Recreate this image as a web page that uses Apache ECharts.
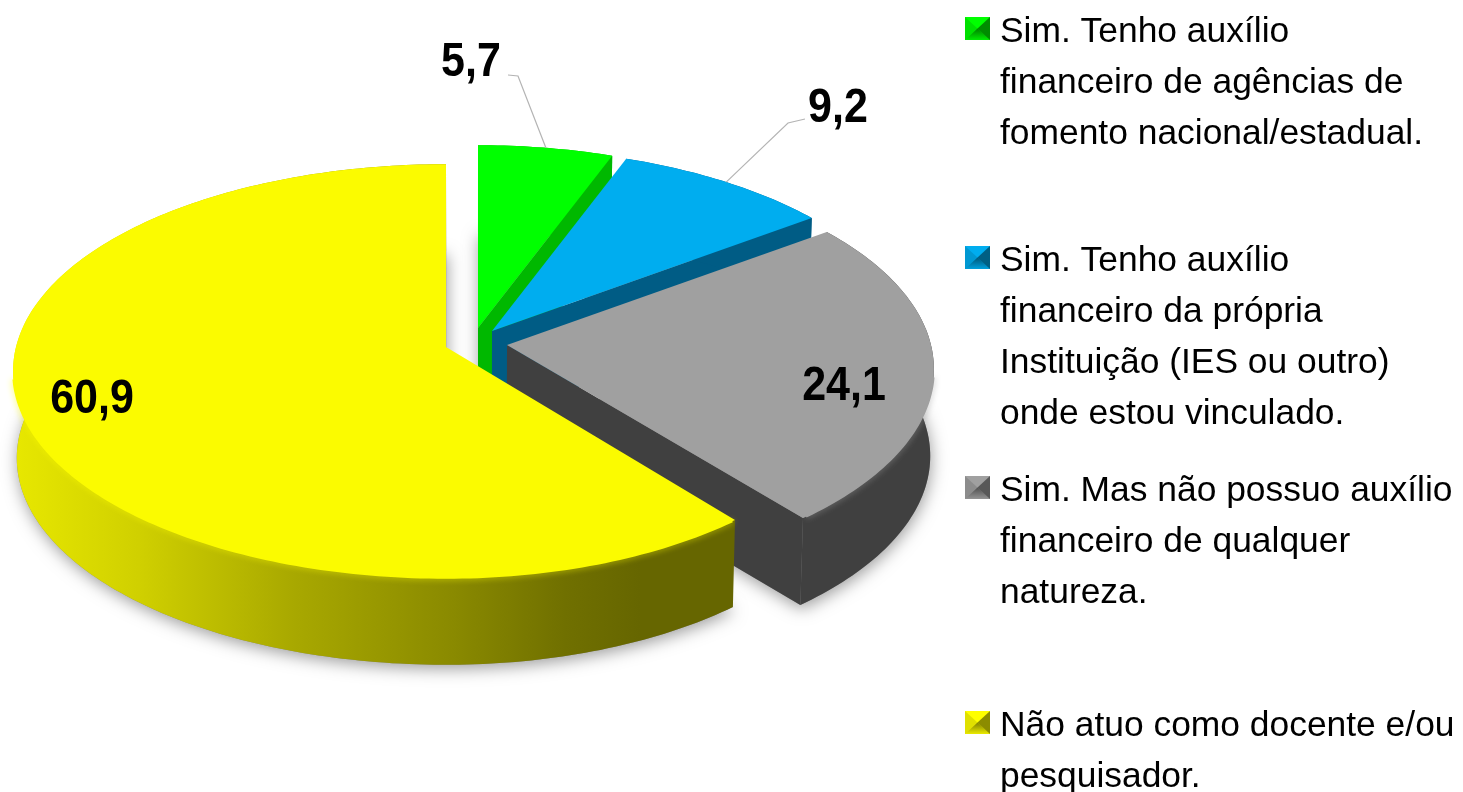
<!DOCTYPE html>
<html>
<head>
<meta charset="utf-8">
<style>
  html, body { margin: 0; padding: 0; background: #fff; }
  #chart { width: 1463px; height: 792px; }
</style>
<script src="https://cdn.jsdelivr.net/npm/echarts@6/dist/echarts.min.js"></script>
</head>
<body>
<div id="chart"></div>
<script>
// dados
const categories = [
  'Sim. Tenho auxílio\nfinanceiro de agências de\nfomento nacional/estadual.',
  'Sim. Tenho auxílio\nfinanceiro da própria\nInstituição (IES ou outro)\nonde estou vinculado.',
  'Sim. Mas não possuo auxílio\nfinanceiro de qualquer\nnatureza.',
  'Não atuo como docente e/ou\npesquisador.'
];
const values = [5.7, 9.2, 24.1, 60.9];
const valueLabels = ['5,7', '9,2', '24,1', '60,9'];

// estilo de cada fatia
const topColors = ['#00ff00', '#00adef', '#a0a0a0', '#fbfb00'];
const sideColors = ['#00b800', '#005c85', '#404040', '#666600'];
const apexes = [[478, 328], [492, 331], [507, 345], [446, 347]];
const rightRadius = [424, 424, 424, 414];
const labelCenters = [[471, 63], [838, 109], [844, 387], [92, 400]];
const leaderElbows = [[[518, 76], [508, 75]], [[788, 123], [805, 119]], null, null];
const legendTops = [32, 261, 491, 726];

// perspectiva do disco
const RX_LEFT = 430, RY = 204, K = 0.116, DEPTH = 87, VANISH_X = 475, BOTTOM_SCALE = 0.992;

function project(i, deg, r, drop) {
  const apex = apexes[i];
  const a = deg * Math.PI / 180;
  const u = r * Math.sin(a), v = -r * Math.cos(a);
  const d = 1 / (1 - K * v);
  let x = apex[0] + (u > 0 ? rightRadius[i] : RX_LEFT) * u * d;
  let y = apex[1] + RY * v * d;
  if (drop) {
    x = VANISH_X + (x - VANISH_X) * BOTTOM_SCALE;
    y += DEPTH;
  }
  return [x, y];
}

function arcPoints(i, from, to, drop) {
  const pts = [];
  const n = Math.max(2, Math.ceil(to - from));
  for (let s = 0; s <= n; s++) pts.push(project(i, from + (to - from) * s / n, 1, drop));
  return pts;
}

const total = values.reduce((s, v) => s + v, 0);
const yellowWall = new echarts.graphic.LinearGradient(13, 0, 640, 0, [
  { offset: 0, color: '#e8e800' },
  { offset: 0.2, color: '#d0d000' },
  { offset: 0.45, color: '#a8a800' },
  { offset: 0.7, color: '#8a8a00' },
  { offset: 0.88, color: '#707000' },
  { offset: 1, color: '#666600' }
], true);

function renderSlice(params, api) {
  const i = params.dataIndex;
  const before = values.slice(0, i).reduce((s, v) => s + v, 0);
  const from = before / total * 360;
  const to = (before + api.value(0)) / total * 360;
  const base = 10 + i * 10;
  const wallFill = i === 3 ? yellowWall : sideColors[i];
  const top = arcPoints(i, from, to, false);
  const bottom = arcPoints(i, from, to, true);
  const children = [];

  // sombra no chão, por baixo de tudo
  children.push({
    type: 'polygon', z2: 1,
    shape: { points: [project(i, 0, 0, true)].concat(bottom) },
    style: { fill: '#888', shadowBlur: 16, shadowColor: 'rgba(0,0,0,0.38)', shadowOffsetX: 1, shadowOffsetY: 4 }
  });

  // face radial visível
  if (to < 180) {
    children.push({
      type: 'polygon', z2: base,
      shape: { points: [project(i, to, 0, false), project(i, to, 1, false), project(i, to, 1, true), project(i, to, 0, true)] },
      style: { fill: sideColors[i] }
    });
  }
  // parede externa
  children.push({
    type: 'polygon', z2: base + 1,
    shape: { points: top.concat(bottom.slice().reverse()) },
    style: { fill: wallFill }
  });
  // brilho na borda da frente
  const rim = [];
  for (let deg = Math.ceil(from); deg <= to; deg++) {
    const c = Math.cos(deg * Math.PI / 180);
    if (c < -0.15) rim.push(project(i, deg, 1, false));
  }
  if (rim.length > 1) {
    children.push({
      type: 'polyline', z2: base + 2,
      shape: { points: rim },
      style: { fill: null, stroke: topColors[i], lineWidth: 2, shadowBlur: 6, shadowColor: topColors[i] }
    });
  }
  // tampo
  children.push({
    type: 'polygon', z2: base + 3,
    shape: { points: [project(i, from, 0, false)].concat(top) },
    style: { fill: topColors[i] }
  });

  // linha guia
  if (leaderElbows[i]) {
    const mid = project(i, (from + to) / 2, 1, false);
    children.push({
      type: 'polyline', z2: 90,
      shape: { points: [mid].concat(leaderElbows[i]) },
      style: { fill: null, stroke: '#b4b4b4', lineWidth: 1.2 }
    });
  }
  // rótulo
  children.push({
    type: 'text', z2: 100,
    x: labelCenters[i][0], y: labelCenters[i][1], scaleY: 1.12,
    style: {
      text: valueLabels[i], fill: '#000',
      font: 'bold 43px "Liberation Sans"', textAlign: 'center', textVerticalAlign: 'middle'
    }
  });
  return { type: 'group', children };
}

// legenda: quadrado chanfrado + texto
const legendItems = [];
categories.forEach(function (name, i) {
  const x = 965, y = legendTops[i] - 15, w = 25, h = 23;
  const cx = x + w / 2, cy = y + h / 2;
  const tl = [x, y], tr = [x + w, y], br = [x + w, y + h], bl = [x, y + h], c = [cx, cy];
  const solid = topColors[i] === '#fbfb00' ? '#ffff00' : topColors[i];
  legendItems.push({ type: 'rect', shape: { x, y, width: w, height: h }, style: { fill: solid } });
  legendItems.push({ type: 'polygon', shape: { points: [tl, bl, c] }, style: { fill: 'rgba(0,0,0,0.12)' } });
  legendItems.push({ type: 'polygon', shape: { points: [tr, br, c] }, style: { fill: 'rgba(0,0,0,0.45)' } });
  legendItems.push({
    type: 'polygon', shape: { points: [bl, br, c] },
    style: { fill: new echarts.graphic.LinearGradient(0, 0, 0, 1, [
      { offset: 0, color: 'rgba(0,0,0,0.5)' },
      { offset: 1, color: 'rgba(0,0,0,0.08)' }
    ]) }
  });
  legendItems.push({
    type: 'text', x: 1000, y: legendTops[i] - 25.5,
    style: {
      text: name, fill: '#000', lineHeight: 51,
      font: '35.4px "Liberation Sans"', textAlign: 'left', textVerticalAlign: 'top'
    }
  });
});

const chart = echarts.init(document.getElementById('chart'));
chart.setOption({
  animation: false,
  backgroundColor: '#fff',
  graphic: { elements: legendItems },
  series: [{
    type: 'custom',
    coordinateSystem: 'none',
    silent: true,
    renderItem: renderSlice,
    data: values
  }]
});
</script>
</body>
</html>
